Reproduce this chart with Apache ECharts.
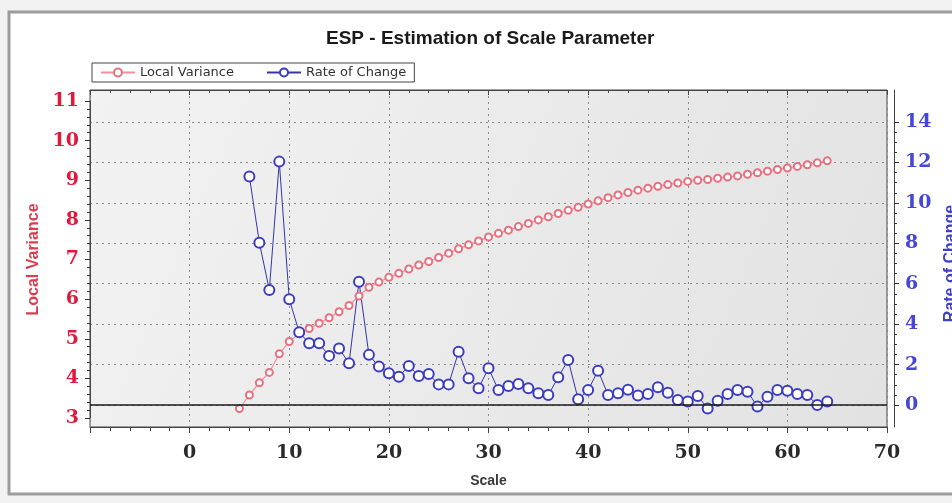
<!DOCTYPE html>
<html>
<head>
<meta charset="utf-8">
<title>ESP - Estimation of Scale Parameter</title>
<script src="https://cdn.jsdelivr.net/npm/echarts@6.0.0/dist/echarts.min.js"></script>
<style>
  html, body { margin: 0; padding: 0; background: #f2f2f2; }
  #chart { width: 952px; height: 503px; }
</style>
</head>
<body>
<div id="chart"></div>
<script>
  // Local Variance (left axis)
  var scaleLV = [5, 6, 7, 8, 9, 10, 11, 12, 13, 14, 15, 16, 17, 18, 19, 20, 21, 22, 23, 24,
    25, 26, 27, 28, 29, 30, 31, 32, 33, 34, 35, 36, 37, 38, 39, 40, 41, 42, 43, 44,
    45, 46, 47, 48, 49, 50, 51, 52, 53, 54, 55, 56, 57, 58, 59, 60, 61, 62, 63, 64];
  var localVariance = [3.24, 3.58, 3.89, 4.15, 4.62, 4.93, 5.13, 5.26, 5.39, 5.53, 5.68, 5.84, 6.08, 6.30, 6.43, 6.55, 6.65, 6.76, 6.86, 6.95,
    7.05, 7.16, 7.27, 7.37, 7.47, 7.57, 7.66, 7.74, 7.83, 7.91, 8.00, 8.08, 8.16, 8.24, 8.32, 8.40, 8.48, 8.56, 8.63, 8.69,
    8.75, 8.80, 8.85, 8.89, 8.93, 8.97, 9.00, 9.02, 9.05, 9.08, 9.11, 9.15, 9.19, 9.23, 9.27, 9.31, 9.35, 9.39, 9.44, 9.49];

  // Rate of Change (right axis)
  var scaleRC = [6, 7, 8, 9, 10, 11, 12, 13, 14, 15, 16, 17, 18, 19, 20, 21, 22, 23, 24,
    25, 26, 27, 28, 29, 30, 31, 32, 33, 34, 35, 36, 37, 38, 39, 40, 41, 42, 43, 44,
    45, 46, 47, 48, 49, 50, 51, 52, 53, 54, 55, 56, 57, 58, 59, 60, 61, 62, 63, 64];
  var rateOfChange = [11.3, 8.03, 5.69, 12.04, 5.23, 3.6, 3.05, 3.05, 2.43, 2.8, 2.06, 6.1, 2.48, 1.9, 1.57, 1.40, 1.93, 1.44, 1.53,
    1.02, 1.02, 2.64, 1.32, 0.83, 1.82, 0.74, 0.94, 1.04, 0.83, 0.58, 0.50, 1.37, 2.23, 0.28, 0.74, 1.70, 0.50, 0.58, 0.76,
    0.47, 0.54, 0.88, 0.61, 0.25, 0.17, 0.45, -0.17, 0.21, 0.54, 0.74, 0.66, -0.08, 0.41, 0.74, 0.71, 0.54, 0.50, 0.0, 0.17];

  var xMin = -10, xMax = 70;

  function zip(xs, ys) {
    return xs.map(function (x, i) { return [x, ys[i]]; });
  }

  var digitFont = '"DejaVu Serif", "Liberation Serif", serif';
  var sansFont = '"Liberation Sans", Arial, sans-serif';

  var chart = echarts.init(document.getElementById('chart'));

  var hiddenX = function (grid) {
    return { type: 'value', gridIndex: grid, min: xMin, max: xMax, show: false };
  };

  chart.setOption({
    animation: false,
    backgroundColor: '#f2f2f2',
    graphic: [
      {
        type: 'rect',
        z: -10,
        shape: { x: 9, y: 12, width: 980, height: 482 },
        style: { fill: '#ffffff', stroke: '#9c9c9c', lineWidth: 3 }
      },
      {
        // plot area shading
        type: 'rect',
        z: -9,
        shape: { x: 90, y: 90, width: 797, height: 337 },
        style: {
          fill: new echarts.graphic.LinearGradient(0, 0, 1, 1, [
            { offset: 0, color: '#f2f2f2' },
            { offset: 1, color: '#e2e2e2' }
          ])
        }
      }
    ],
    title: {
      text: 'ESP - Estimation of Scale Parameter',
      left: 326,
      top: 29,
      padding: 0,
      textStyle: { fontFamily: sansFont, fontSize: 19, fontWeight: 'bold', color: '#1a1a1a' }
    },
    legend: {
      left: 92,
      top: 63,
      padding: [3, 8],
      itemGap: 32,
      itemWidth: 34,
      itemHeight: 10,
      backgroundColor: '#ffffff',
      borderColor: '#444',
      borderWidth: 1,
      borderRadius: 0,
      textStyle: { fontFamily: '"DejaVu Sans", sans-serif', fontSize: 13, color: '#333' },
      data: ['Local Variance', 'Rate of Change']
    },
    grid: [
      {
        left: 90, top: 90, width: 797, height: 337,
        show: true, borderColor: '#444', borderWidth: 1,
        backgroundColor: 'transparent',
        outerBoundsMode: 'none'
      },
      // left axis: 11 at y=101, 3 at y=418
      { left: 90, top: 101, width: 797, height: 317, outerBoundsMode: 'none' },
      // right axis: 14 at y=122, 0 at y=405
      { left: 90, top: 122, width: 797, height: 283, outerBoundsMode: 'none' },
      // strip whose bottom edge is the plot's top edge, for the downward top ticks
      { left: 90, top: 80, width: 797, height: 10, outerBoundsMode: 'none' }
    ],
    xAxis: [
      {
        type: 'value', gridIndex: 0, position: 'bottom',
        min: xMin, max: xMax, interval: 10,
        name: 'Scale', nameLocation: 'middle', nameGap: 47,
        nameTextStyle: { fontFamily: sansFont, fontSize: 14, fontWeight: 'bold', color: '#3a3a3a' },
        axisLine: { show: true, onZero: false, lineStyle: { color: '#444', width: 1 } },
        axisTick: { show: true, length: 6, lineStyle: { color: '#444' } },
        minorTick: { show: true, splitNumber: 5, length: 4, lineStyle: { color: '#444' } },
        axisLabel: {
          margin: 17,
          fontFamily: digitFont, fontSize: 19, fontWeight: 'bold', color: '#2a2a2a',
          formatter: function (v) { return v < 0 ? '' : v; }
        },
        splitLine: { show: true, lineStyle: { color: '#8a8a8a', type: [2, 4], width: 1 } }
      },
      {
        type: 'value', gridIndex: 3, position: 'bottom',
        min: xMin, max: xMax, interval: 10,
        axisLine: { show: true, onZero: false, lineStyle: { color: '#444' } },
        axisTick: { show: true, length: 5, lineStyle: { color: '#444', width: 1 } },
        minorTick: { show: true, splitNumber: 5, length: 3, lineStyle: { color: '#444', width: 1 } },
        axisLabel: { show: false },
        splitLine: { show: false }
      },
      hiddenX(1),
      hiddenX(2)
    ],
    yAxis: [
      {
        type: 'value', gridIndex: 0, position: 'right', offset: 7,
        min: 0, max: 1,
        axisLine: { show: true, onZero: false, lineStyle: { color: '#444' } },
        axisTick: { show: false },
        axisLabel: { show: false },
        splitLine: { show: false }
      },
      {
        type: 'value', gridIndex: 1, position: 'left',
        min: 3, max: 11, interval: 1,
        name: 'Local Variance', nameLocation: 'middle', nameGap: 46, nameRotate: 90,
        nameTextStyle: { fontFamily: sansFont, fontSize: 16, fontWeight: 'bold', color: '#d9404f' },
        axisLine: { show: true, onZero: false, lineStyle: { color: '#444' } },
        axisTick: { show: true, inside: false, length: 5, lineStyle: { color: '#333', width: 1 } },
        minorTick: { show: true, splitNumber: 5, length: 3, lineStyle: { color: '#333', width: 1 } },
        axisLabel: { margin: 11, fontFamily: digitFont, fontSize: 19, fontWeight: 'bold', color: '#e3173a' },
        splitLine: { show: false }
      },
      {
        type: 'value', gridIndex: 2, position: 'right', offset: 7,
        min: 0, max: 14, interval: 2,
        name: 'Rate of Change', nameLocation: 'middle', nameGap: 45, nameRotate: 90,
        nameTextStyle: { fontFamily: sansFont, fontSize: 16, fontWeight: 'bold', color: '#4040c8' },
        axisLine: { show: true, onZero: false, lineStyle: { color: '#444' } },
        axisTick: { show: true, inside: false, length: 5, lineStyle: { color: '#333', width: 1 } },
        minorTick: { show: true, splitNumber: 4, length: 3, lineStyle: { color: '#333', width: 1 } },
        axisLabel: { margin: 11, fontFamily: digitFont, fontSize: 19, fontWeight: 'bold', color: '#4646d6' },
        splitLine: { show: true, lineStyle: { color: '#8a8a8a', type: [2, 4], width: 1 } }
      },
      { type: 'value', gridIndex: 3, min: 0, max: 1, show: false }
    ],
    series: [
      {
        name: 'Local Variance',
        type: 'line',
        xAxisIndex: 2, yAxisIndex: 1,
        clip: false,
        symbol: 'emptyCircle',
        symbolSize: 7,
        lineStyle: { color: '#f2909c', width: 1.2 },
        itemStyle: { color: '#e8707f', borderWidth: 1 },
        data: zip(scaleLV, localVariance)
      },
      {
        name: 'Rate of Change',
        type: 'line',
        xAxisIndex: 3, yAxisIndex: 2,
        clip: false,
        symbol: 'emptyCircle',
        symbolSize: 10,
        lineStyle: { color: '#3434a8', width: 1 },
        itemStyle: { color: '#3c3cc2', borderWidth: 1.2 },
        markLine: {
          silent: true,
          symbol: ['none', 'none'],
          label: { show: false },
          lineStyle: { color: '#1a1a1a', width: 1.5, type: 'solid' },
          data: [{ yAxis: 0 }]
        },
        data: zip(scaleRC, rateOfChange)
      }
    ]
  });
</script>
</body>
</html>
